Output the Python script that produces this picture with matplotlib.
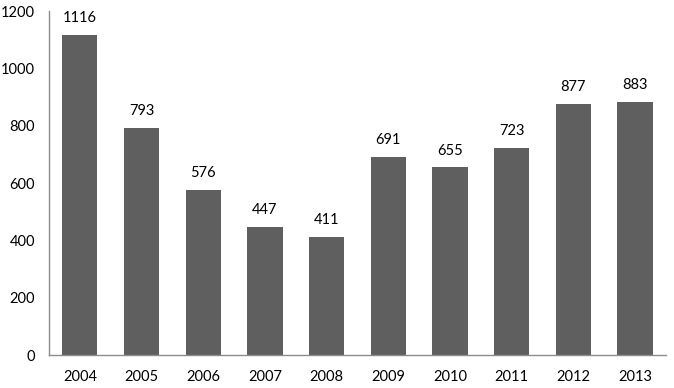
import matplotlib

matplotlib.use("Agg")
import matplotlib.pyplot as plt  # noqa: E402

years = ["2004", "2005", "2006", "2007", "2008", "2009", "2010", "2011", "2012", "2013"]
values = [1116, 793, 576, 447, 411, 691, 655, 723, 877, 883]
y_ticks = [0, 200, 400, 600, 800, 1000, 1200]

plt.rcParams["font.family"] = ["Lato", "DejaVu Sans"]

fig = plt.figure(figsize=(6.74, 3.88), dpi=100)
ax = fig.add_axes([0.0727, 0.085, 0.9153, 0.8866])

x = range(len(years))
ax.bar(x, values, width=0.57, color="#5f5f5f")
for xi, v in zip(x, values):
    ax.annotate(str(v), (xi, v), xytext=(0, 7), textcoords="offset points",
                ha="center", va="bottom", fontsize=10.5, color="black")

ax.set_xlim(-0.5, len(years) - 0.5)
ax.set_ylim(0, 1200)
ax.set_yticks(y_ticks)
ax.set_xticks(list(x))
ax.set_xticklabels(years)
ax.tick_params(length=0, labelsize=10.5, colors="black")
ax.tick_params(axis="x", pad=11)
ax.tick_params(axis="y", pad=10)

for side in ["top", "right"]:
    ax.spines[side].set_visible(False)
for side in ["left", "bottom"]:
    ax.spines[side].set_color("#8c8c8c")
    ax.spines[side].set_linewidth(1)

fig.savefig("out.png", dpi=100)
